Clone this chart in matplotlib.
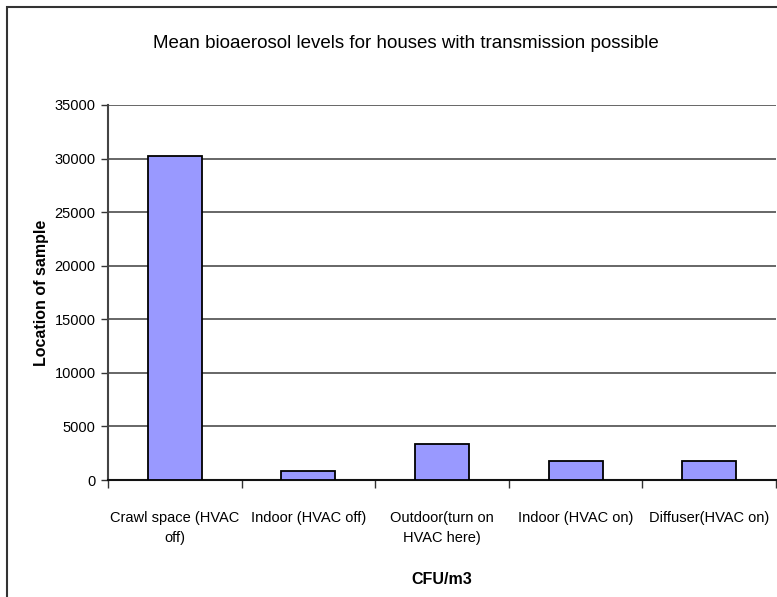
import matplotlib
matplotlib.use('Agg')
import matplotlib.pyplot as plt
import matplotlib.patches as patches
import numpy as np

plt.rcParams['font.family'] = ['Liberation Sans', 'DejaVu Sans']

# data
categories = ['Crawl space (HVAC\noff)', 'Indoor (HVAC off)', 'Outdoor(turn on\nHVAC here)',
              'Indoor (HVAC on)', 'Diffuser(HVAC on)']
mean_levels = [30200, 850, 3350, 1800, 1800]
y_ticks = [0, 5000, 10000, 15000, 20000, 25000, 30000, 35000]

W, H = 777, 597
fig = plt.figure(figsize=(W / 100, H / 100), dpi=100)
fig.patch.set_facecolor('white')

# outer chart border (runs off the right and bottom of the picture)
border = patches.Rectangle((7 / W, -0.05), 1.2, 1 - 7 / H + 0.05, transform=fig.transFigure,
                           fill=False, edgecolor='#333333', linewidth=1.5)
fig.patches.append(border)

ax = fig.add_axes([108 / W, 1 - 480 / H, 668 / W, (480 - 105) / H])
x = np.arange(len(categories))
ax.bar(x, mean_levels, width=0.405, color='#9999ff', edgecolor='black', linewidth=1.3, zorder=3)

ax.set_xlim(-0.5, len(categories) - 0.5)
ax.set_ylim(0, 35000)
ax.set_yticks(y_ticks)
ax.set_yticklabels([str(v) for v in y_ticks], fontsize=10.5)
ax.yaxis.grid(True, color='#5a5a5a', linewidth=1.3, zorder=0)
ax.set_axisbelow(True)

ax.set_xticks(x)
ax.set_xticklabels(categories, fontsize=10.5, linespacing=1.55)
ax.set_xticks(np.arange(len(categories) + 1) - 0.5, minor=True)
ax.tick_params(axis='x', which='major', length=0, pad=22)
ax.tick_params(axis='x', which='minor', length=6, width=1, color='#333333', direction='out')
ax.tick_params(axis='y', length=5, width=1, color='#333333', pad=4)

for s in ['top', 'right']:
    ax.spines[s].set_visible(False)
ax.spines['left'].set_color('#444444')
ax.spines['left'].set_linewidth(1.5)
ax.spines['bottom'].set_color('#111111')
ax.spines['bottom'].set_linewidth(1.5)

ax.set_ylabel('Location of sample', fontsize=11.5, fontweight='bold', labelpad=4)
ax.set_xlabel('CFU/m3', fontsize=11.5, fontweight='bold', labelpad=20)

fig.text(406 / W, 1 - 44 / H,
         'Mean bioaerosol levels for houses with transmission possible',
         ha='center', va='center', fontsize=13.5)

fig.savefig('out.png', dpi=100)
